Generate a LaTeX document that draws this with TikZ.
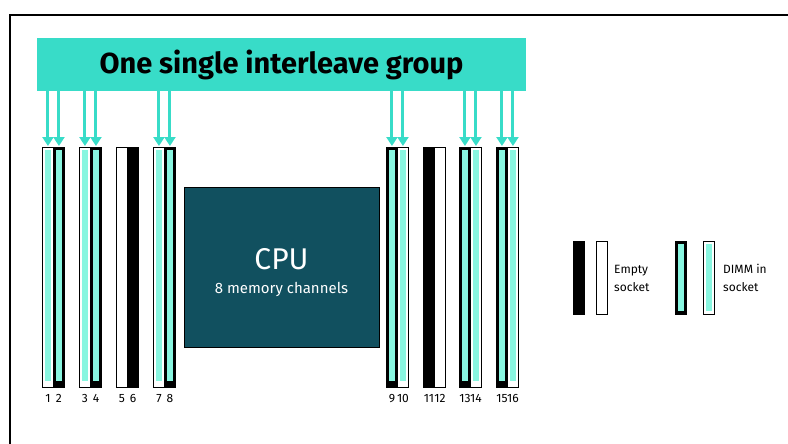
\documentclass[tikz,border=0pt]{standalone}
\usepackage{fontspec}
\setmainfont{Fira Sans}
\usetikzlibrary{calc,arrows.meta}
\definecolor{bannerc}{HTML}{38DCC8}
\definecolor{mint}{HTML}{88F6E0}
\definecolor{cpuc}{HTML}{11505F}
\tikzset{
  slotbase/.style={rectangle, minimum width=11pt, minimum height=240pt, inner sep=0pt, anchor=north west, draw=black, line width=0.9pt},
  wslot/.style={slotbase, fill=white},
  bslot/.style={slotbase, fill=black},
  dimm/.style={path picture={\fill[mint] ([xshift=2.6pt,yshift=-3pt]path picture bounding box.north west) rectangle ([xshift=-2.6pt,yshift=6pt]path picture bounding box.south east);}},
  legslot/.style={rectangle, minimum width=11pt, minimum height=73pt, inner sep=0pt, anchor=north west, draw=black, line width=0.9pt},
  legdimm/.style={path picture={\fill[mint] ([xshift=2.6pt,yshift=-2.6pt]path picture bounding box.north west) rectangle ([xshift=-2.6pt,yshift=3pt]path picture bounding box.south east);}},
  num/.style={font=\fontsize{12}{13}\selectfont, inner sep=0pt},
  legtext/.style={font=\fontsize{12}{18}\selectfont, align=left, anchor=west, inner sep=0pt},
  arr/.style={draw=bannerc, line width=3pt, -{Triangle[width=11pt,length=9pt]}, shorten >=1pt}
}
\begin{document}
\begin{tikzpicture}[x=1pt,y=-1pt]
\useasboundingbox (0,0) rectangle (788,444);
\draw[line width=2.6pt] (10,444) -- (10,15) -- (788,15);
% banner
\node[rectangle, fill=bannerc, minimum width=489pt, minimum height=53pt, inner sep=0pt] (banner) at (281.5,64.5) {};
\node[font=\bfseries\fontsize{29}{32}\selectfont, inner sep=0pt] (title) at (281.5,65) {One single interleave group};
% slots
\node[wslot,dimm] (s1) at (42,147) {};
\node[bslot,dimm] (s2) at (53,147) {};
\node[wslot,dimm] (s3) at (79,147) {};
\node[bslot,dimm] (s4) at (90,147) {};
\node[wslot] (s5) at (116,147) {};
\node[bslot] (s6) at (127,147) {};
\node[wslot,dimm] (s7) at (153,147) {};
\node[bslot,dimm] (s8) at (164,147) {};
\node[bslot,dimm] (s9) at (386,147) {};
\node[wslot,dimm] (s10) at (397,147) {};
\node[bslot] (s11) at (423,147) {};
\node[wslot] (s12) at (434,147) {};
\node[bslot,dimm] (s13) at (459,147) {};
\node[wslot,dimm] (s14) at (470,147) {};
\node[bslot,dimm] (s15) at (496,147) {};
\node[wslot,dimm] (s16) at (507,147) {};
% numbers
\foreach \i in {1,...,16}{
  \node[num] (n\i) at ($(s\i.south)+(0,11)$) {\i};
}
% arrows
\foreach \i in {1,2,3,4,7,8,9,10,13,14,15,16}{
  \draw[arr] (banner.south -| s\i.north) -- (s\i.north);
}
% CPU
\node[rectangle, fill=cpuc, draw=black, line width=0.9pt, minimum width=195pt, minimum height=160pt, inner sep=0pt] (cpu) at (281.5,267) {};
\node[text=white, font=\fontsize{30}{32}\selectfont, inner sep=0pt] (cputitle) at (281.5,259) {CPU};
\node[text=white, font=\fontsize{15}{17}\selectfont, inner sep=0pt] (cpusub) at (281.5,289) {8 memory channels};
% legend
\node[legslot, fill=black] (l1) at (573,241) {};
\node[legslot, fill=white] (l2) at (596,241) {};
\node[legtext] (lt1) at (614,278) {Empty\\socket};
\node[legslot, fill=black, legdimm] (l3) at (675,241) {};
\node[legslot, fill=white, legdimm] (l4) at (703,241) {};
\node[legtext] (lt2) at (723,278) {DIMM in\\socket};
\end{tikzpicture}
\end{document}
